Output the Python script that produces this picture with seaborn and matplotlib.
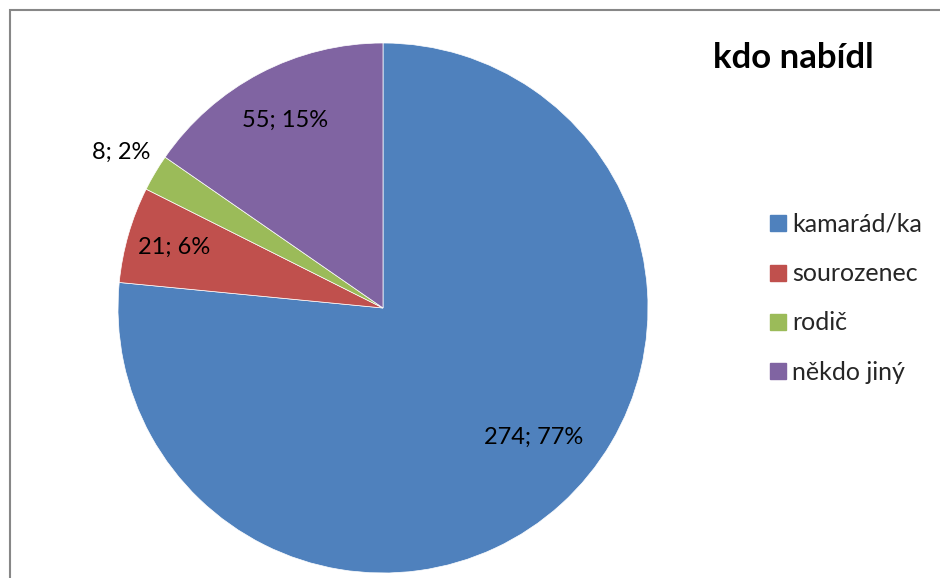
import matplotlib
matplotlib.use("Agg")
import matplotlib.pyplot as plt
from matplotlib.patches import Rectangle
from matplotlib.lines import Line2D
import numpy as np
import seaborn as sns

# Who offered it: answer categories and counts
categories = ["kamarád/ka", "sourozenec", "rodič", "někdo jiný"]
counts = [274, 21, 8, 55]
title_text = "kdo nabídl"

colors = ["#4F81BD", "#C0504D", "#9BBB59", "#8064A2"]

# Label anchors (pie radius units): radius and angle shift from wedge middle
label_radius = [0.75, 0.82, 1.15, 0.80]
label_shift = [7.0, 0.0, 0.0, 0.0]

sns.set_style("white")
plt.rcParams["font.family"] = ["Lato", "DejaVu Sans"]

W, H = 940, 578
fig = plt.figure(figsize=(W / 100, H / 100), dpi=100)

cx, cy, R = 383, 308, 265
ax = fig.add_axes([(cx - R) / W, (H - cy - R) / H, 2 * R / W, 2 * R / H])

wedges, _ = ax.pie(counts, colors=colors, startangle=90, counterclock=False,
                   radius=1.0, wedgeprops=dict(linewidth=0.5, edgecolor="white"))
ax.set_xlim(-1, 1)
ax.set_ylim(-1, 1)
ax.set_aspect("equal")
ax.axis("off")

total = sum(counts)
for w, n, r, s in zip(wedges, counts, label_radius, label_shift):
    mid = np.deg2rad((w.theta1 + w.theta2) / 2 + s)
    pct = round(100 * n / total)
    ax.text(r * np.cos(mid), r * np.sin(mid), f"{n}; {pct}%",
            ha="center", va="center", fontsize=17, color="black")

# Title
fig.text(793 / W, 1 - 58 / H, title_text, ha="center", va="center",
         fontsize=25, fontweight="bold", color="black")

# Legend
handles = [Line2D([0], [0], marker="s", linestyle="", markersize=11,
                  markerfacecolor=c, markeredgecolor=c) for c in colors]
fig.legend(handles, categories, loc="upper left",
           bbox_to_anchor=(770 / W, 1 - 213 / H), frameon=False,
           fontsize=18, labelspacing=1.05, handlelength=0.6,
           handletextpad=0.3, borderpad=0, borderaxespad=0)

# Chart area border
fig.add_artist(Rectangle((9.5 / W, -0.1), 1.2, 1 - 10.5 / H + 0.1,
                         transform=fig.transFigure, fill=False,
                         edgecolor="#878787", linewidth=1.5))

fig.savefig("out.png", dpi=100)
